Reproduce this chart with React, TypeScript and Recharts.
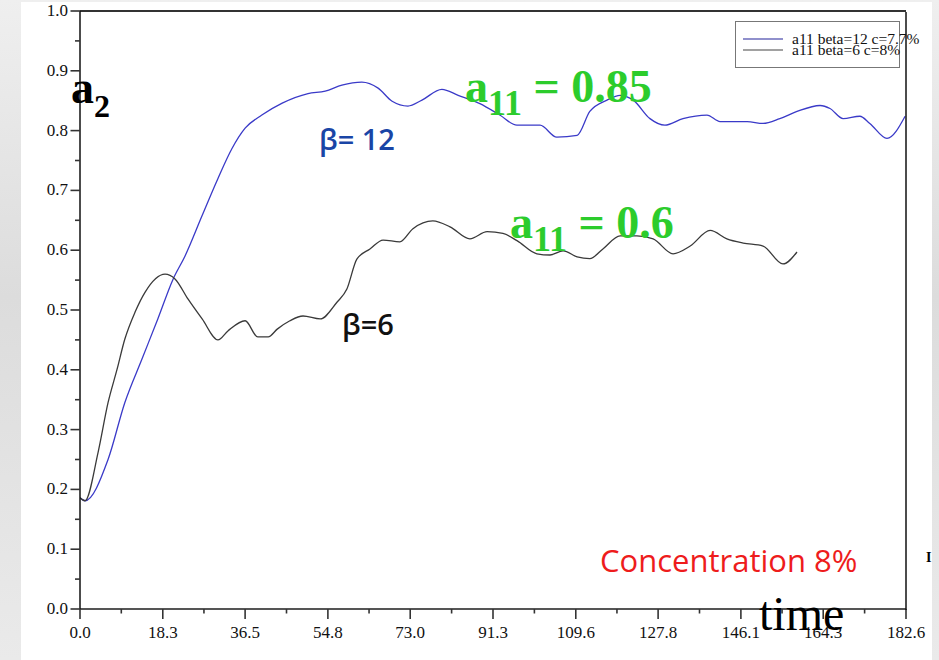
import React from 'react';
import { LineChart, Line, XAxis, YAxis, ReferenceLine, Legend } from 'recharts';

// ---- data ----
const beta12Time = [0, 1.1, 6.2, 9.9, 13.7, 17.2, 20.6, 23.2, 27.0, 30.5, 33.6, 36.5, 40.2, 44.7, 50.4, 54.2, 57.9, 62.3, 65.9, 69.0, 72.5, 75.6, 80.0, 83.6, 88.4, 92.8, 96.6, 101.7, 105.4, 109.9, 112.7, 116.5, 119.4, 122.3, 126.0, 129.3, 133.3, 138.6, 141.5, 147.5, 151.0, 154.7, 158.5, 163.6, 165.8, 168.7, 172.4, 174.6, 178.4, 182.4];
const beta12Values = [0.186, 0.181, 0.25, 0.345, 0.418, 0.485, 0.552, 0.59, 0.658, 0.72, 0.77, 0.804, 0.826, 0.846, 0.862, 0.866, 0.876, 0.881, 0.871, 0.849, 0.841, 0.851, 0.869, 0.859, 0.845, 0.826, 0.809, 0.809, 0.789, 0.792, 0.832, 0.851, 0.859, 0.851, 0.82, 0.809, 0.82, 0.826, 0.815, 0.815, 0.812, 0.82, 0.832, 0.842, 0.837, 0.82, 0.824, 0.812, 0.787, 0.824];

const beta6Time = [0, 1.1, 4.0, 6.2, 8.2, 9.9, 12.2, 14.4, 18.8, 21.0, 23.9, 27.0, 30.5, 32.7, 36.5, 39.3, 41.6, 43.6, 46.4, 49.3, 53.1, 56.8, 59.0, 61.2, 64.1, 67.0, 70.7, 73.6, 78.0, 81.8, 86.2, 90.0, 93.5, 96.6, 101.0, 103.9, 106.8, 109.9, 112.7, 115.6, 119.4, 123.1, 126.7, 131.1, 134.9, 139.3, 143.0, 146.6, 151.0, 155.4, 158.5];
const beta6Values = [0.186, 0.181, 0.262, 0.345, 0.401, 0.451, 0.497, 0.53, 0.56, 0.552, 0.518, 0.485, 0.45, 0.465, 0.482, 0.455, 0.455, 0.468, 0.482, 0.49, 0.485, 0.513, 0.535, 0.585, 0.602, 0.617, 0.614, 0.636, 0.649, 0.639, 0.619, 0.631, 0.628, 0.616, 0.594, 0.592, 0.599, 0.589, 0.586, 0.602, 0.624, 0.624, 0.619, 0.594, 0.607, 0.633, 0.619, 0.612, 0.607, 0.577, 0.597];

const seriesNames = ['a11 beta=12 c=7.7%', 'a11 beta=6 c=8%'];

const xMajorTicks = [0, 18.3, 36.5, 54.8, 73.0, 91.3, 109.6, 127.8, 146.1, 164.3, 182.6];
const xMinorTicks = [9.13, 27.4, 45.65, 63.9, 82.15, 100.45, 118.7, 136.95, 155.2, 173.45];
const yMajorTicks = [0, 0.1, 0.2, 0.3, 0.4, 0.5, 0.6, 0.7, 0.8, 0.9, 1.0];
const yMinorTicks = [0.05, 0.15, 0.25, 0.35, 0.45, 0.55, 0.65, 0.75, 0.85, 0.95];

const beta12Data = beta12Time.map((t, i) => ({ t, v: beta12Values[i] }));
const beta6Data = beta6Time.map((t, i) => ({ t, v: beta6Values[i] }));
const xTicks = [...xMajorTicks, ...xMinorTicks].sort((a, b) => a - b);
const yTicks = [...yMajorTicks, ...yMinorTicks].sort((a, b) => a - b);

const BLUE = '#3a3ac8';
const DARK = '#3a3a3a';
const LEGEND_COLORS = ['#22229a', '#444444'];
const GREEN = '#2ccc2c';
const TICK_FONT = '"Liberation Serif", "Times New Roman", serif';
const SANS = '"Open Sans", "DejaVu Sans", sans-serif';

const isMajorX = (v: number) => xMajorTicks.some((m) => Math.abs(m - v) < 1e-6);
const isMajorY = (v: number) => yMajorTicks.some((m) => Math.abs(m - v) < 1e-6);

const XTick = (props: any) => {
  const { x, y, payload } = props;
  const major = isMajorX(payload.value);
  return (
    <g>
      <line x1={x} x2={x} y1={y} y2={y + (major ? 10 : 4.5)} stroke="#333" strokeWidth={1.6} />
      {major && (
        <text x={x} y={y + 29} textAnchor="middle" fontFamily={TICK_FONT} fontSize={17} fill="#111">
          {payload.value.toFixed(1)}
        </text>
      )}
    </g>
  );
};

const YTick = (props: any) => {
  const { x, y, payload } = props;
  const major = isMajorY(payload.value);
  return (
    <g>
      <line x1={x - (major ? 9.5 : 5)} x2={x} y1={y} y2={y} stroke="#333" strokeWidth={1.6} />
      {major && (
        <text x={x - 12} y={y + 5} textAnchor="end" fontFamily={TICK_FONT} fontSize={17} fill="#111">
          {payload.value.toFixed(1)}
        </text>
      )}
    </g>
  );
};

const LegendBox = (props: any) => {
  const payload = props.payload || [];
  return (
    <div
      style={{
        position: 'relative',
        width: 165,
        height: 47,
        border: '1px solid #777',
        boxSizing: 'border-box',
        background: '#fff',
        overflow: 'visible',
      }}
    >
      {payload.map((p: any, i: number) => (
        <div
          key={i}
          style={{
            position: 'absolute',
            left: 7,
            top: 11 + i * 11,
            height: 11,
            display: 'flex',
            alignItems: 'center',
            whiteSpace: 'nowrap',
          }}
        >
          <svg width={40} height={4} style={{ marginRight: 9 }}>
            <line x1={0} x2={40} y1={2} y2={2} stroke={LEGEND_COLORS[i] || p.color} strokeWidth={1.2} />
          </svg>
          <span style={{ fontFamily: TICK_FONT, fontSize: 15.5, lineHeight: '11px', color: '#111' }}>{p.value}</span>
        </div>
      ))}
    </div>
  );
};

export default function App() {
  return (
    <div
      style={{
        position: 'absolute',
        left: 0,
        top: 0,
        width: 939,
        height: 660,
        overflow: 'hidden',
        background: 'linear-gradient(180deg, #efefef 0%, #dcdcdc 45%, #eaeaea 100%)',
      }}
    >
      <div style={{ position: 'absolute', left: 21, top: 2, width: 911, height: 658, background: '#fff', overflow: 'hidden' }}>
        <div style={{ position: 'absolute', left: -21, top: -2, width: 939, height: 660 }}>
          <LineChart width={939} height={660} margin={{ top: 11, right: 33, bottom: 21, left: 20 }}>
            <XAxis
              type="number"
              dataKey="t"
              domain={[0, 182.6]}
              ticks={xTicks}
              interval={0}
              height={30}
              tickSize={0}
              tickMargin={0}
              tickLine={false}
              axisLine={{ stroke: '#555', strokeWidth: 2 }}
              tick={<XTick />}
              allowDataOverflow
            />
            <YAxis
              type="number"
              dataKey="v"
              domain={[0, 1]}
              ticks={yTicks}
              interval={0}
              width={60}
              tickSize={0}
              tickMargin={0}
              tickLine={false}
              axisLine={{ stroke: '#111', strokeWidth: 1.5 }}
              tick={<YTick />}
              allowDataOverflow
            />
            <ReferenceLine y={1} stroke="#333" strokeWidth={2} ifOverflow="visible" />
            <Legend
              layout="horizontal"
              verticalAlign="middle"
              align="center"
              content={<LegendBox />}
              wrapperStyle={{ left: 735, top: 21, width: 165, height: 47, right: 'auto', bottom: 'auto' }}
            />
            <Line
              data={beta12Data}
              dataKey="v"
              name={seriesNames[0]}
              type="monotone"
              stroke={BLUE}
              strokeWidth={1.3}
              dot={false}
              isAnimationActive={false}
            />
            <Line
              data={beta6Data}
              dataKey="v"
              name={seriesNames[1]}
              type="monotone"
              stroke={DARK}
              strokeWidth={1.3}
              dot={false}
              isAnimationActive={false}
            />
          </LineChart>
          <svg
            width={939}
            height={660}
            style={{ position: 'absolute', left: 0, top: 0, pointerEvents: 'none' }}
          >
            <line x1={906} x2={906} y1={12} y2={610} stroke="#111" strokeWidth={1.5} />
            <text x={71} y={103} fontFamily={TICK_FONT} fontWeight="bold" fontSize={46} fill="#000">
              a<tspan fontSize={32} dy={14}>2</tspan>
            </text>
            <text x={319} y={150} fontFamily={SANS} fontWeight={600} fontSize={29} fill="#1a45a6">
              β= 12
            </text>
            <text x={342} y={335} fontFamily={SANS} fontWeight={600} fontSize={29} fill="#111">
              β=6
            </text>
            <text x={465} y={102} fontFamily={TICK_FONT} fontWeight="bold" fontSize={46} fill={GREEN}>
              a<tspan fontSize={36} dy={13}>11</tspan>
              <tspan dy={-13}> = 0.85</tspan>
            </text>
            <text x={510} y={238} fontFamily={TICK_FONT} fontWeight="bold" fontSize={46} fill={GREEN}>
              a<tspan fontSize={36} dy={13}>11</tspan>
              <tspan dy={-13}> = 0.6</tspan>
            </text>
            <text x={600} y={572} fontFamily={SANS} fontWeight={500} fontSize={31} fill="#ee1c1c">
              Concentration 8%
            </text>
            <text x={759} y={630} fontFamily={TICK_FONT} fontSize={48} fill="#000">
              time
            </text>
            <text x={926} y={562} fontFamily={TICK_FONT} fontWeight="bold" fontSize={14} fill="#000">
              I
            </text>
          </svg>
        </div>
      </div>
    </div>
  );
}
